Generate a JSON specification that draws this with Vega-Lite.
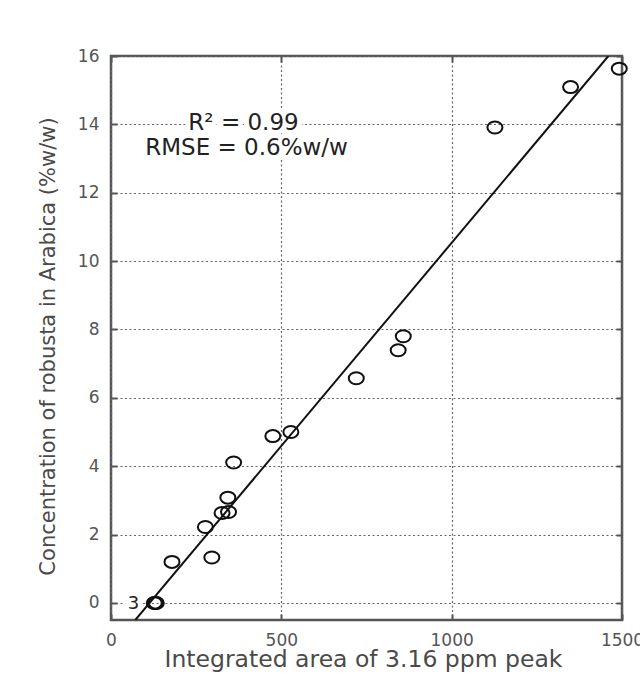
{
  "$schema": "https://vega.github.io/schema/vega-lite/v6.json",
  "width": 511,
  "height": 564,
  "autosize": {"type": "none"},
  "padding": {"left": 111, "top": 56, "right": 18, "bottom": 69},
  "background": "white",
  "config": {
    "view": {"stroke": "#555555", "strokeWidth": 2.5},
    "font": "DejaVu Sans"
  },
  "datasets": {
    "pts": [
      {"area": 127, "conc": 0},
      {"area": 130, "conc": 0},
      {"area": 133, "conc": 0},
      {"area": 179, "conc": 1.2},
      {"area": 277, "conc": 2.22},
      {"area": 296, "conc": 1.33},
      {"area": 326, "conc": 2.63},
      {"area": 345, "conc": 2.66},
      {"area": 343, "conc": 3.08},
      {"area": 360, "conc": 4.11},
      {"area": 475, "conc": 4.88},
      {"area": 528, "conc": 5.0},
      {"area": 720, "conc": 6.57},
      {"area": 858, "conc": 7.8},
      {"area": 843, "conc": 7.39},
      {"area": 1127, "conc": 13.91},
      {"area": 1349, "conc": 15.09},
      {"area": 1492, "conc": 15.63}
    ],
    "fit": [
      {"area": 71.3, "conc": -0.5},
      {"area": 1460, "conc": 16}
    ],
    "notes": [
      {"area": 389, "conc": 13.83, "label": "R² = 0.99", "size": 23},
      {"area": 398, "conc": 13.09, "label": "RMSE = 0.6%w/w", "size": 23},
      {"area": 66, "conc": -0.17, "label": "3", "size": 18}
    ]
  },
  "layer": [
    {
      "data": {"name": "pts"},
      "mark": {
        "type": "point",
        "shape": "M-1,0A1,0.8,0,1,1,1,0A1,0.8,0,1,1,-1,0Z",
        "size": 225,
        "filled": false,
        "stroke": "#111111",
        "strokeWidth": 2,
        "opacity": 1
      },
      "encoding": {
        "x": {
          "field": "area", "type": "quantitative",
          "scale": {"domain": [0, 1500], "nice": false, "zero": false},
          "axis": {
            "orient": "bottom",
            "values": [0, 500, 1000, 1500], "format": "d",
            "grid": true, "gridDash": [2, 2.5], "gridColor": "#666666", "gridWidth": 1.2, "gridOpacity": 1,
            "domain": false,
            "ticks": true, "tickSize": -6, "tickColor": "#555555", "tickWidth": 2,
            "labelFontSize": 17, "labelColor": "#555555", "labelPadding": 18, "labelFlush": false,
            "labelBaseline": "top",
            "title": "Integrated area of 3.16 ppm peak",
            "titleFontSize": 23.5, "titleFontWeight": "normal", "titleColor": "#4a4a4a",
            "titleX": 252, "titleY": 46, "titleBaseline": "alphabetic", "titleAlign": "center", "titleAnchor": null
          }
        },
        "y": {
          "field": "conc", "type": "quantitative",
          "scale": {"domain": [-0.5, 16], "nice": false, "zero": false},
          "axis": {
            "orient": "left",
            "values": [0, 2, 4, 6, 8, 10, 12, 14, 16], "format": "d",
            "grid": true, "gridDash": [2, 2.5], "gridColor": "#666666", "gridWidth": 1.2, "gridOpacity": 1,
            "domain": false,
            "ticks": true, "tickSize": -6, "tickColor": "#555555", "tickWidth": 2,
            "labelFontSize": 17, "labelColor": "#555555", "labelPadding": 18, "labelFlush": false,
            "title": "Concentration of robusta in Arabica (%w/w)",
            "titleFontSize": 21, "titleFontWeight": "normal", "titleColor": "#4a4a4a",
            "titleX": -57, "titleY": 290, "titleAngle": 270, "titleBaseline": "alphabetic", "titleAlign": "center", "titleAnchor": null
          }
        }
      }
    },
    {
      "data": {"name": "fit"},
      "mark": {"type": "line", "color": "#111111", "strokeWidth": 2, "clip": true},
      "encoding": {
        "x": {
          "field": "area", "type": "quantitative",
          "axis": {"orient": "top", "values": [0, 500, 1000, 1500], "labels": false, "title": null, "grid": false, "domain": false, "tickSize": -6, "tickColor": "#555555", "tickWidth": 2}
        },
        "y": {
          "field": "conc", "type": "quantitative",
          "axis": {"orient": "right", "values": [0, 2, 4, 6, 8, 10, 12, 14, 16], "labels": false, "title": null, "grid": false, "domain": false, "tickSize": -6, "tickColor": "#555555", "tickWidth": 2}
        }
      }
    },
    {
      "data": {"name": "notes"},
      "mark": {"type": "text", "align": "center", "baseline": "alphabetic", "stroke": "white", "strokeWidth": 10, "strokeJoin": "round", "fill": "white"},
      "encoding": {
        "x": {"field": "area", "type": "quantitative", "axis": null},
        "y": {"field": "conc", "type": "quantitative", "axis": null},
        "text": {"field": "label"},
        "size": {"field": "size", "type": "quantitative", "scale": null}
      }
    },
    {
      "data": {"name": "notes"},
      "mark": {"type": "text", "align": "center", "baseline": "alphabetic", "fill": "#222222"},
      "encoding": {
        "x": {"field": "area", "type": "quantitative", "axis": null},
        "y": {"field": "conc", "type": "quantitative", "axis": null},
        "text": {"field": "label"},
        "size": {"field": "size", "type": "quantitative", "scale": null}
      }
    }
  ],
  "resolve": {"axis": {"x": "independent", "y": "independent"}}
}
